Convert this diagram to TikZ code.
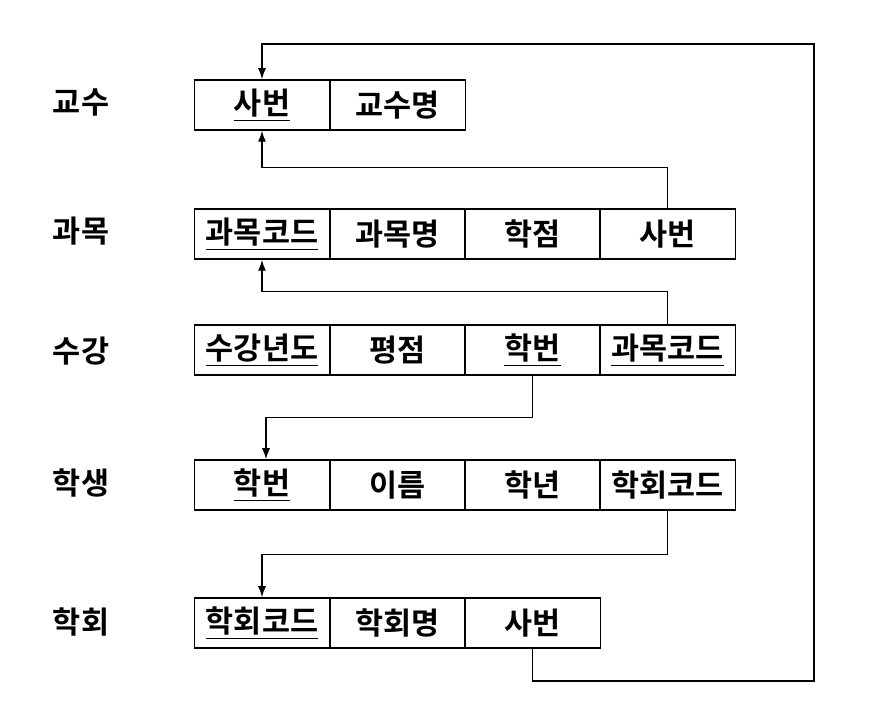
\documentclass[tikz,border=0pt]{standalone}
\usepackage{fontspec}
\usepackage{tikz}
\usetikzlibrary{arrows.meta,calc}
\newfontfamily\kr[BoldFont={Noto Sans CJK KR Bold}]{Noto Sans CJK KR}
\newcommand{\pkey}[1]{\underline{#1\rule[-4pt]{0pt}{4pt}}}

\begin{document}
\begin{tikzpicture}[x=1pt, y=1pt,
        cell/.style={draw, line width=1.5pt, minimum width=135.5pt, minimum height=50pt, inner sep=0pt, font=\kr\bfseries\fontsize{30.5}{34}\selectfont},
        tbl/.style={font=\kr\bfseries\fontsize{30.5}{34}\selectfont},
        fk/.style={-{Latex[length=11pt,width=8pt]}, line width=1.3pt}]
        \useasboundingbox (0,0) rectangle (871,705);
        % table names
        \node[tbl] (t1) at (81,603) {교수};
        \node[tbl] (t2) at (81,474) {과목};
        \node[tbl] (t3) at (81,354) {수강};
        \node[tbl] (t4) at (81,222) {학생};
        \node[tbl] (t5) at (81,83) {학회};
        % 교수
        \node[cell] (p1) at (262,600) {\pkey{사번}};
        \node[cell] (p2) at (397.5,600) {교수명};
        % 과목
        \node[cell] (c1) at (262,471) {\pkey{과목코드}};
        \node[cell] (c2) at (397.5,471) {과목명};
        \node[cell] (c3) at (532.5,471) {학점};
        \node[cell] (c4) at (667.5,471) {사번};
        % 수강
        \node[cell] (e1) at (262,355) {\pkey{수강년도}};
        \node[cell] (e2) at (397.5,355) {평점};
        \node[cell] (e3) at (532.5,355) {\pkey{학번}};
        \node[cell] (e4) at (667.5,355) {\pkey{과목코드}};
        % 학생
        \node[cell] (s1) at (262,220) {\pkey{학번}};
        \node[cell] (s2) at (397.5,220) {이름};
        \node[cell] (s3) at (532.5,220) {학년};
        \node[cell] (s4) at (667.5,220) {학회코드};
        % 학회
        \node[cell] (h1) at (262,82) {\pkey{학회코드}};
        \node[cell] (h2) at (397.5,82) {학회명};
        \node[cell] (h3) at (532.5,82) {사번};
        \coordinate (bot) at (814,24);
        \coordinate (top) at (814,661);
        % foreign keys
        \draw[fk] (c4.north) -- ++(0,41) -| (p1.south);
        \draw[fk] (e4.north) -- ++(0,33) -| (c1.south);
        \draw[fk] (e3.south) -- ++(0,-42) -| ($(s1.north)+(4,0)$);
        \draw[fk] (s4.south) -- ++(0,-44) -| (h1.north);
        \draw[fk] (h3.south) |- (bot) -- (top) -| (p1.north);
    \end{tikzpicture}
\end{document}
